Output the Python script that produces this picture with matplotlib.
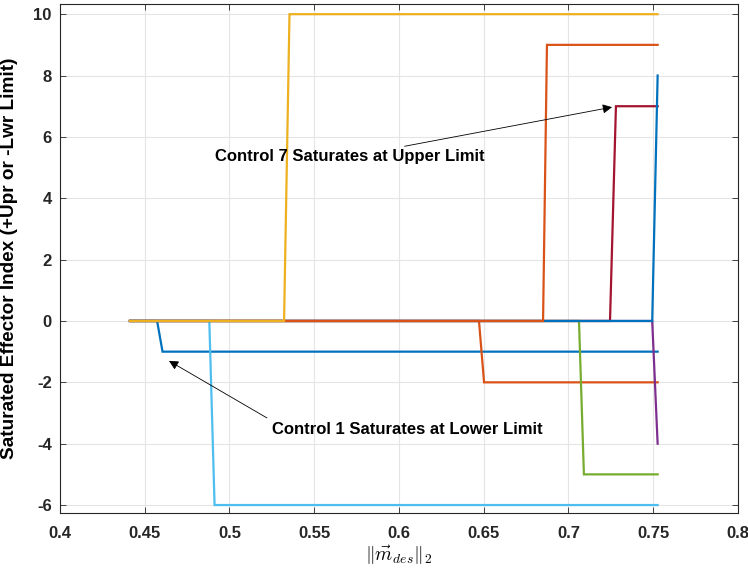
import matplotlib
matplotlib.use('Agg')

import numpy as np
import matplotlib.pyplot as plt

plt.rcParams['font.family'] = ['Liberation Sans', 'DejaVu Sans']
plt.rcParams['mathtext.fontset'] = 'cm'
plt.rcParams['axes.unicode_minus'] = False

# controls that saturate, and their index (+ = upper limit, - = lower limit)
ctrl_id = [1, 2, 4, 5, 6, 7, 8, 9, 10]
ctrl_level = [-1, -2, -4, -5, -6, 7, 8, 9, 10]
# last sample at 0 and first saturated sample, in ||m_des||_2
ctrl_x_off = [0.4573, 0.6472, 0.7494, 0.7062, 0.4881, 0.7245, 0.7494, 0.6850, 0.5322]
ctrl_x_on = [0.4605, 0.6502, 0.7526, 0.7091, 0.4912, 0.7280, 0.7526, 0.6873, 0.5354]
x_first = 0.4413
x_last = 0.7526

matlab_colors = ['#0072BD', '#D95319', '#EDB120', '#7E2F8E',
                 '#77AC30', '#4DBEEE', '#A2142F']

fig = plt.figure(figsize=(7.48, 5.81), dpi=100)
ax = fig.add_axes([0.0802, 0.117, 0.9064, 0.876])

for i in range(len(ctrl_id)):
    xs = [x_first, ctrl_x_off[i], ctrl_x_on[i], x_last]
    ys = [0, 0, ctrl_level[i], ctrl_level[i]]
    ax.plot(xs, ys, color=matlab_colors[(ctrl_id[i] - 1) % 7], lw=1.6,
            solid_joinstyle='miter')

ax.set_xlim(0.4, 0.8)
ax.set_ylim(-6.26, 10.33)
ax.set_xticks(np.arange(0.4, 0.801, 0.05))
ax.set_xticklabels(['0.4', '0.45', '0.5', '0.55', '0.6', '0.65', '0.7', '0.75', '0.8'])
ax.set_yticks(np.arange(-6, 11, 2))

ax.grid(True, color='#e5e5e5', lw=0.8)
ax.set_axisbelow(True)
ax.tick_params(direction='in', top=True, right=True, length=4, width=0.6,
               color='#262626', labelsize=12)
ax.tick_params(axis='x', pad=9)
ax.tick_params(axis='y', pad=6)
for lab in ax.get_xticklabels() + ax.get_yticklabels():
    lab.set_fontweight('bold')
    lab.set_color('#262626')
for sp in ax.spines.values():
    sp.set_color('#262626')
    sp.set_linewidth(0.8)

ax.set_ylabel('Saturated Effector Index (+Upr or -Lwr Limit)',
              fontsize=13.7, fontweight='bold')
ax.yaxis.set_label_coords(-0.062, 0.5)
ax.set_xlabel(r'$\|\vec{m}_{des}\|_2$', fontsize=14, labelpad=2)

ax.annotate('Control 7 Saturates at Upper Limit', xy=(0.7257, 6.97), xytext=(0.6507, 5.36),
            ha='right', va='center', fontsize=12, fontweight='bold',
            arrowprops=dict(arrowstyle='-|>', color='k', lw=0.6, mutation_scale=14,
                            shrinkA=0, shrinkB=0))
ax.annotate('', xy=(0.4643, -1.30), xytext=(0.5221, -3.16),
            arrowprops=dict(arrowstyle='-|>', color='k', lw=0.6, mutation_scale=14,
                            shrinkA=0, shrinkB=0))
ax.text(0.5251, -3.55, 'Control 1 Saturates at Lower Limit', ha='left', va='center',
        fontsize=12, fontweight='bold')

fig.savefig('out.png', dpi=100)
